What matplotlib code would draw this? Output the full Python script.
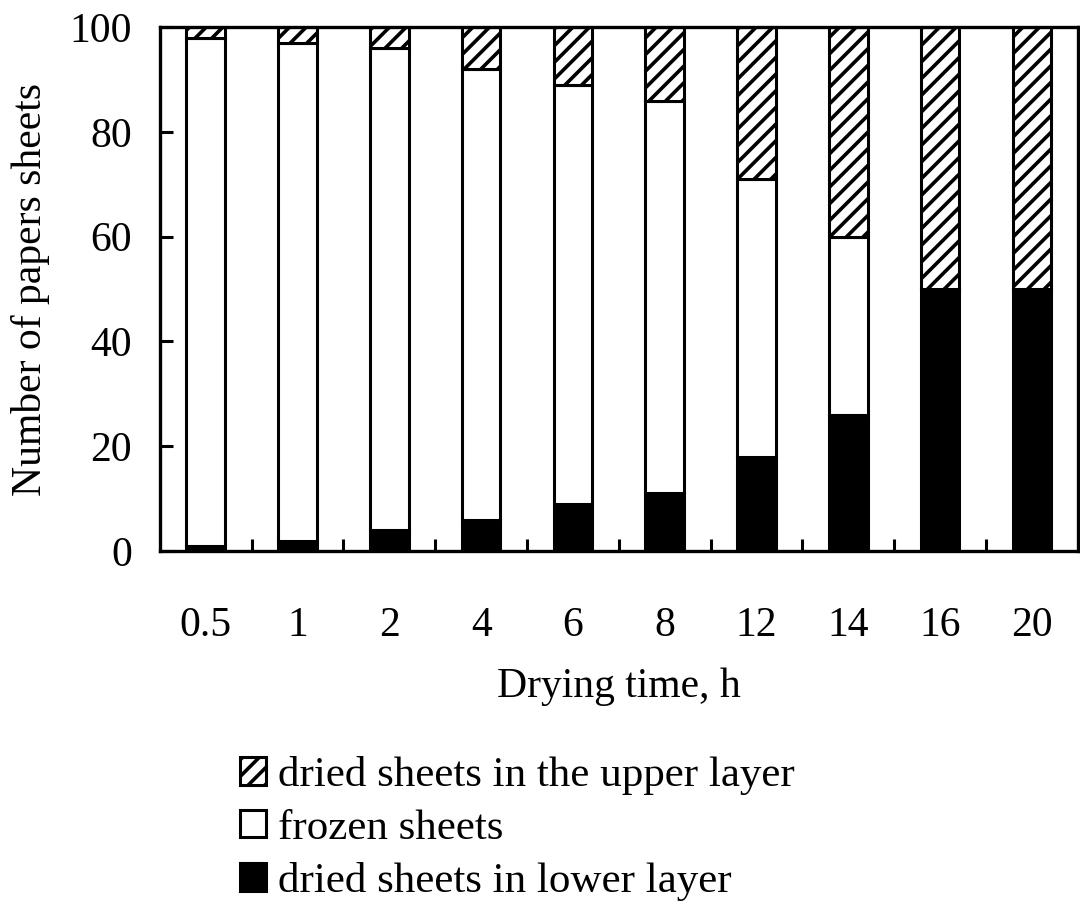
import numpy as np
import matplotlib.pyplot as plt

# Datos
tiempos = ['0.5', '1', '2', '4', '6', '8', '12', '14', '16', '20']
inferior = [1, 2, 4, 6, 9, 11, 18, 26, 50, 50]      # dried sheets in lower layer
congeladas = [97, 95, 92, 86, 80, 75, 53, 34, 0, 0]  # frozen sheets
superior = [2, 3, 4, 8, 11, 14, 29, 40, 50, 50]      # dried sheets in the upper layer

plt.rcParams['font.family'] = ['Liberation Serif', 'DejaVu Serif']
plt.rcParams['hatch.linewidth'] = 2.6

fig = plt.figure(figsize=(10.8, 9.07), dpi=100)
ax = fig.add_axes([0.148, 0.3925, 0.85, 0.5775])

x = np.arange(len(tiempos))
ancho = 0.42
lw = 2.2
fs = 30

b1 = ax.bar(x, inferior, ancho, color='black', edgecolor='black', linewidth=lw,
            label='dried sheets in lower layer')
b2 = ax.bar(x, congeladas, ancho, bottom=inferior, color='white',
            edgecolor='black', linewidth=lw, label='frozen sheets')
base = np.array(inferior) + np.array(congeladas)
b3 = ax.bar(x, superior, ancho, bottom=base, color='white', edgecolor='black',
            hatch='//', linewidth=lw, label='dried sheets in the upper layer')

ax.set_xlim(-0.5, len(tiempos) - 0.5)
ax.set_ylim(0, 100)
ax.set_yticks([0, 20, 40, 60, 80, 100])
ax.set_xticks(x)
ax.set_xticklabels(tiempos)
ax.set_xticks(np.arange(0.5, len(tiempos) - 1, 1), minor=True)

ax.tick_params(axis='x', which='major', length=0, pad=40, labelsize=fs)
ax.tick_params(axis='x', which='minor', direction='in', length=9, width=2.2)
ax.tick_params(axis='y', direction='in', length=9, width=2.2, pad=20,
               labelsize=fs)
for s in ax.spines.values():
    s.set_linewidth(2.4)

ax.set_xlabel('Drying time, h', fontsize=fs, labelpad=16)
ax.set_ylabel('Number of papers sheets', fontsize=fs, labelpad=14)

fig.legend(handles=[b3, b2, b1], loc='upper left',
           bbox_to_anchor=(0.206, 1 - 739 / 907), fontsize=31, frameon=False,
           handlelength=0.6, handleheight=0.6, handletextpad=0.3,
           labelspacing=0.33, borderaxespad=0)

plt.savefig('out.png', dpi=100)
